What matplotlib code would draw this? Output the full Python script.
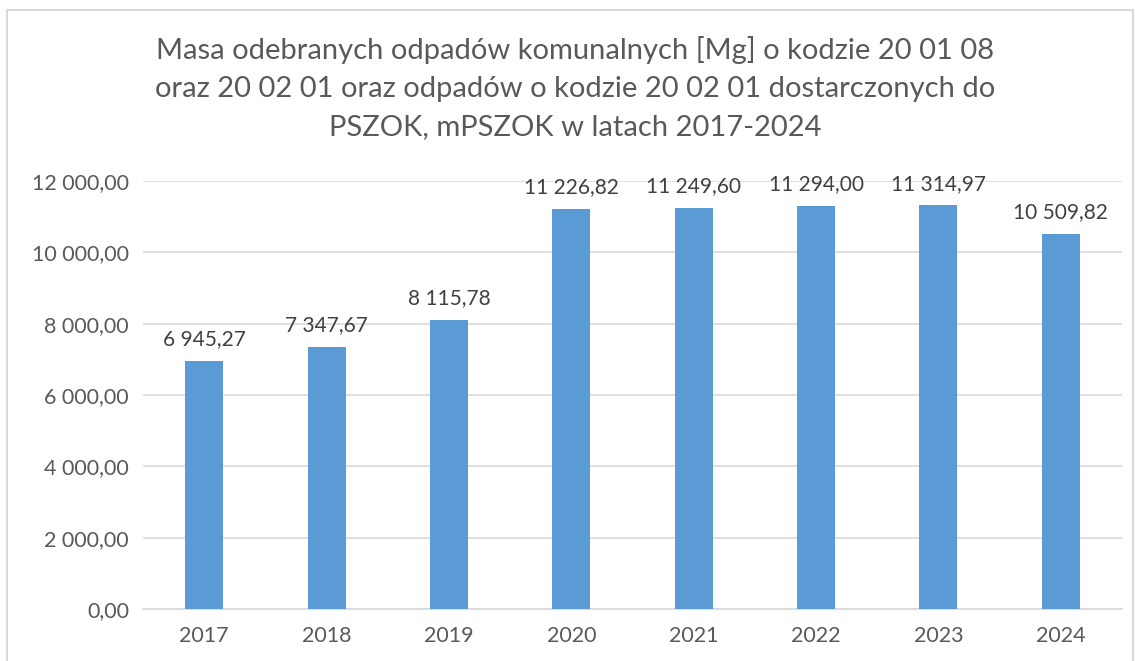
import matplotlib.pyplot as plt
from matplotlib.lines import Line2D

# dane z wykresu
lata = ['2017', '2018', '2019', '2020', '2021', '2022', '2023', '2024']
masa = [6945.27, 7347.67, 8115.78, 11226.82, 11249.60, 11294.00, 11314.97, 10509.82]
y_ticks = [0, 2000, 4000, 6000, 8000, 10000, 12000]

tytul = ('Masa odebranych odpadów komunalnych [Mg] o kodzie 20 01 08\n'
         'oraz 20 02 01 oraz odpadów o kodzie 20 02 01 dostarczonych do\n'
         'PSZOK, mPSZOK w latach 2017-2024')


def fmt(v):
    # format polski: spacja jako separator tysięcy, przecinek dziesiętny
    return f'{v:,.2f}'.replace(',', ' ').replace('.', ',')


plt.rcParams['font.family'] = ['Lato', 'DejaVu Sans']

fig = plt.figure(figsize=(11.35, 6.61), dpi=100)
ax = fig.add_axes([0.126, 0.0787, 0.8625, 0.6475])

x = range(len(lata))
ax.bar(x, masa, width=0.31, color='#5B9BD5', zorder=3)
for i, v in zip(x, masa):
    ax.text(i, v + 330, fmt(v), ha='center', va='bottom', fontsize=15, color='#404040')

ax.set_xlim(-0.5, len(lata) - 0.5)
ax.set_ylim(0, 12000)
ax.set_yticks(y_ticks)
ax.set_yticklabels([fmt(t) for t in y_ticks])
ax.set_xticks(list(x))
ax.set_xticklabels(lata)
ax.tick_params(axis='both', length=0, labelsize=15.5, labelcolor='#595959')
ax.tick_params(axis='y', pad=10)
ax.tick_params(axis='x', pad=12)
ax.grid(axis='y', color='#D9D9D9', linewidth=1.2, zorder=0)
for s in ['top', 'right', 'left']:
    ax.spines[s].set_visible(False)
ax.spines['bottom'].set_color('#D9D9D9')
ax.spines['bottom'].set_linewidth(1.2)

fig.text(0.507, 0.945, tytul, ha='center', va='top', fontsize=21, color='#595959',
         linespacing=1.57)

# ramka wykresu
kol = '#D9D9D9'
fig.add_artist(Line2D([7 / 1135, 7 / 1135], [0, 1 - 10 / 661], color=kol, lw=1.5))
fig.add_artist(Line2D([7 / 1135, 1133 / 1135], [1 - 10 / 661, 1 - 10 / 661], color=kol, lw=1.5))
fig.add_artist(Line2D([1133 / 1135, 1133 / 1135], [0, 1 - 10 / 661], color=kol, lw=1.5))

fig.savefig('out.png', dpi=100)
